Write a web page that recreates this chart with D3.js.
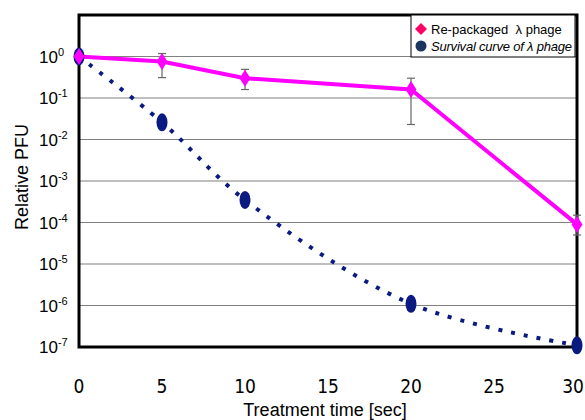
<!DOCTYPE html>
<html><head><meta charset="utf-8">
<script src="https://cdn.jsdelivr.net/npm/d3@7"></script>
<style>body{margin:0;background:#fff}svg{display:block}</style>
</head><body><svg id="c" width="585" height="420"></svg>
<script>
const times = [0, 5, 10, 20, 30];
const repackaged = [1.0, 0.76, 0.30, 0.16, 0.00009];
const repackErrLow = [1.0, 0.31, 0.16, 0.023, 0.00005];
const repackErrHigh = [1.0, 1.18, 0.49, 0.30, 0.00015];
const survival = [1.0, 0.026, 0.00035, 0.0000011, 0.00000011];
const xTicks = [0, 5, 10, 15, 20, 25, 30];
const yExponents = [0, -1, -2, -3, -4, -5, -6, -7];
const legendLabels = ["Re-packaged  λ phage", "Survival curve of λ phage"];

const svg = d3.select("#c");
const L = 79, R = 577, T = 15, B = 347;
const x = d3.scaleLinear().domain([0, 30]).range([L, R]);
const y = d3.scaleLog().domain([1e-7, 10]).range([B, T]);

// gridlines
svg.append("g").selectAll("line").data(yExponents.filter(e => e > -7)).join("line")
  .attr("x1", L).attr("x2", R)
  .attr("y1", e => y(Math.pow(10, e))).attr("y2", e => y(Math.pow(10, e)))
  .attr("stroke", "#808080").attr("stroke-width", 1.2);

// frame
svg.append("rect").attr("x", L).attr("y", T).attr("width", R - L).attr("height", B - T)
  .attr("fill", "none").attr("stroke", "#000").attr("stroke-width", 3);

// y tick labels
const yt = svg.append("g").attr("font-family", "Liberation Sans, Arial, sans-serif").attr("fill", "#000");
yExponents.forEach(e => {
  const t = yt.append("text").attr("x", 39).attr("y", y(Math.pow(10, e)) + 6).attr("font-size", 17);
  t.append("tspan").text("10");
  t.append("tspan").attr("font-size", 11).attr("dy", -7).text(e === 0 ? "0" : "-" + (-e));
});

// x tick labels
svg.append("g").selectAll("text").data(xTicks).join("text")
  .attr("x", d => x(d) - (d === 30 ? 4 : 0)).attr("y", 393)
  .attr("text-anchor", "middle")
  .attr("font-family", "Liberation Sans Narrow, DejaVu Sans Condensed, sans-serif")
  .attr("font-size", 19).text(d => d);

// axis titles
svg.append("text").attr("x", 325).attr("y", 416).attr("text-anchor", "middle")
  .attr("font-family", "Liberation Sans, Arial, sans-serif").attr("font-size", 18)
  .text("Treatment time [sec]");
svg.append("text").attr("transform", "translate(28,177) rotate(-90)").attr("text-anchor", "middle")
  .attr("font-family", "Liberation Sans, Arial, sans-serif").attr("font-size", 18)
  .text("Relative PFU");

// survival curve (smoothed dotted)
const sData = times.map((t, i) => [t, survival[i]]);
svg.append("path").datum(sData)
  .attr("d", d3.line().x(d => x(d[0])).y(d => y(d[1])).curve(d3.curveCatmullRom.alpha(0.5)))
  .attr("fill", "none").attr("stroke", "#0a1a80").attr("stroke-width", 4)
  .attr("stroke-dasharray", "4,9");

// repackaged line
const rData = times.map((t, i) => [t, repackaged[i]]);
svg.append("path").datum(rData)
  .attr("d", d3.line().x(d => x(d[0])).y(d => y(d[1])))
  .attr("fill", "none").attr("stroke", "#ff00ff").attr("stroke-width", 4);

// error bars
const eb = svg.append("g").attr("stroke", "#666").attr("stroke-width", 1.2);
times.forEach((t, i) => {
  if (repackErrLow[i] === repackErrHigh[i]) return;
  const cx = x(t);
  eb.append("line").attr("x1", cx).attr("x2", cx).attr("y1", y(repackErrLow[i])).attr("y2", y(repackErrHigh[i]));
  [repackErrLow[i], repackErrHigh[i]].forEach(v => {
    eb.append("line").attr("x1", cx - 4).attr("x2", cx + 4).attr("y1", y(v)).attr("y2", y(v));
  });
});

// survival markers
svg.append("g").selectAll("ellipse").data(sData).join("ellipse")
  .attr("cx", d => x(d[0])).attr("cy", d => y(d[1]))
  .attr("rx", 5.5).attr("ry", 9).attr("fill", "#0a1a80");

// repackaged markers (diamonds)
const diamond = (cx, cy, w, h) => `M${cx},${cy - h} L${cx + w},${cy} L${cx},${cy + h} L${cx - w},${cy} Z`;
svg.append("g").selectAll("path").data(rData).join("path")
  .attr("d", d => diamond(x(d[0]), y(d[1]), 5.5, 8.5)).attr("fill", "#ff00ff");

// legend
const lg = svg.append("g").attr("font-family", "Liberation Sans, Arial, sans-serif").attr("font-size", 13);
lg.append("rect").attr("x", 411).attr("y", 15).attr("width", 164).attr("height", 42)
  .attr("fill", "#fff").attr("stroke", "#000").attr("stroke-width", 1);
lg.append("path").attr("d", diamond(421, 29, 6, 6)).attr("fill", "#ff0066");
lg.append("circle").attr("cx", 421).attr("cy", 46).attr("r", 5.5).attr("fill", "#1a3560");
lg.append("text").attr("x", 431).attr("y", 33.5).style("white-space", "pre").text(legendLabels[0]);
lg.append("text").attr("x", 431).attr("y", 50.5).attr("font-style", "italic").style("white-space", "pre")
  .attr("textLength", 141).attr("lengthAdjust", "spacing").text(legendLabels[1]);
</script></body></html>
